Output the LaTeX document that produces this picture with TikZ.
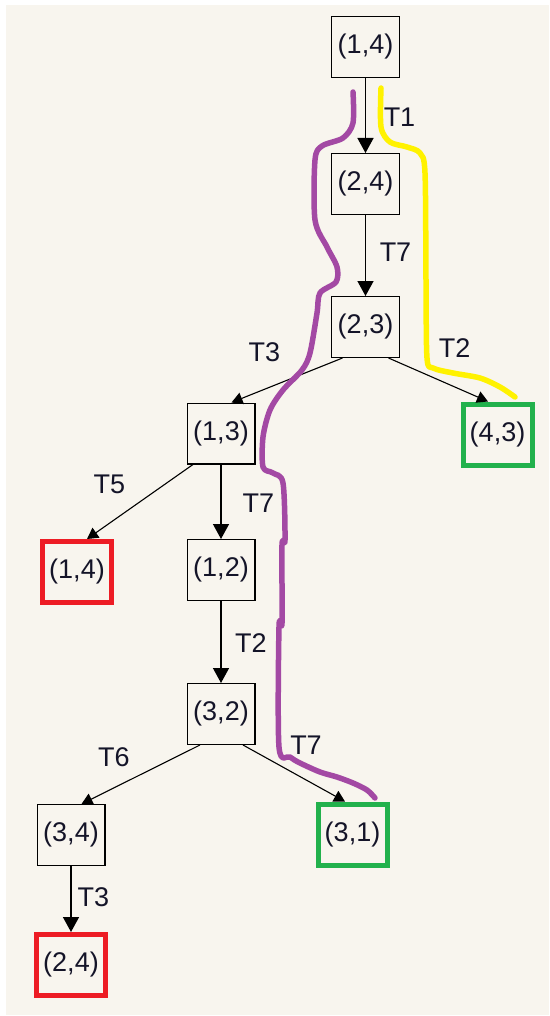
\documentclass[tikz,border=0pt]{standalone}
\usepackage{fontspec}
\setmainfont{Liberation Sans}
\usetikzlibrary{arrows.meta}
\definecolor{bgc}{RGB}{248,245,238}
\definecolor{pgreen}{RGB}{34,177,76}
\definecolor{pred}{RGB}{237,28,36}
\definecolor{pyellow}{RGB}{255,242,0}
\definecolor{ppurple}{RGB}{163,73,164}
\definecolor{txt}{RGB}{20,20,40}
\begin{document}
\begin{tikzpicture}[x=1pt,y=-1pt,
 box/.style={draw=black,line width=1.4pt,minimum width=67.6pt,minimum height=60.6pt,inner sep=0pt,text=txt,font=\fontsize{27}{32}\selectfont},
 goal/.style={box,draw=pgreen,line width=5pt,minimum width=69pt,minimum height=61pt},
 dead/.style={box,draw=pred,line width=5pt,minimum width=69pt,minimum height=61pt},
 vedge/.style={draw,line width=1.4pt,-{Triangle[width=16pt,length=15pt]}},
 dedge/.style={draw,line width=1.1pt,-{Triangle[width=12pt,length=11pt]}},
 lbl/.style={inner sep=0pt,text=txt,font=\fontsize{27}{32}\selectfont},
 hl/.style={line width=5.5pt,line cap=round,line join=round}]
\useasboundingbox (0,0) rectangle (549,1016);
\fill[white] (0,0) rectangle (549,1016);
\fill[bgc] (6,5) rectangle (549,1015);
% nodes
\node[box] (a) at (365.5,47) {(1,4)};
\node[box] (b) at (365.5,184) {(2,4)};
\node[box] (c) at (365.5,327) {(2,3)};
\node[box] (d) at (221,433.5) {(1,3)};
\node[goal] (e) at (497.5,434.5) {(4,3)};
\node[dead] (f) at (77,572) {(1,4)};
\node[box] (g) at (221,570) {(1,2)};
\node[box] (h) at (221,714) {(3,2)};
\node[box] (i) at (71,835) {(3,4)};
\node[goal] (j) at (352.5,834.5) {(3,1)};
\node[dead] (k) at (71,965) {(2,4)};
% edges
\draw[vedge] (a) -- (b);
\draw[vedge] (b) -- (c);
\draw[dedge] ([xshift=-23pt]c.south) -- ([xshift=10.5pt]d.north);
\draw[dedge] ([xshift=23pt]c.south) -- ([xshift=-9.5pt]e.north);
\draw[dedge] ([xshift=-28pt]d.south) -- ([xshift=10pt]f.north);
\draw[vedge] (d) -- (g);
\draw[vedge] (g) -- (h);
\draw[dedge] ([xshift=-21pt]h.south) -- ([xshift=10.5pt]i.north);
\draw[dedge] ([xshift=22pt]h.south) -- ([xshift=-7.5pt]j.north);
\draw[vedge] (i) -- (k);
% labels
\node[lbl] (l1) at (399.5,117) {T1};
\node[lbl] (l2) at (395.5,252) {T7};
\node[lbl] (l3) at (264.5,352) {T3};
\node[lbl] (l4) at (454.5,348) {T2};
\node[lbl] (l5) at (109.5,484) {T5};
\node[lbl] (l6) at (258.5,503) {T7};
\node[lbl] (l7) at (251,643) {T2};
\node[lbl] (l8) at (114,757) {T6};
\node[lbl] (l9) at (306,745) {T7};
\node[lbl] (l10) at (93.5,897.5) {T3};
% hand-drawn highlights
\draw[hl,ppurple] plot[smooth,tension=0.5] coordinates {(353,92) (353,123) (343,138) (322,146) (315,160) (315,220) (327,247) (337,267) (336,282) (320,293) (317,313) (310,353) (302,370) (283,390) (270,410) (263,437) (263,467) (273,473) (283,483) (285,540) (282,545) (282,623) (279,627) (279,747) (290,757) (300,763) (320,772) (337,777) (353,783) (367,790) (375,798)};
\draw[hl,pyellow] plot[smooth,tension=0.5] coordinates {(381,88) (381,127) (390,142) (407,147) (420,153) (425,173) (426,280) (427,358) (433,368) (453,373) (480,378) (500,387) (515,397)};
\end{tikzpicture}
\end{document}
